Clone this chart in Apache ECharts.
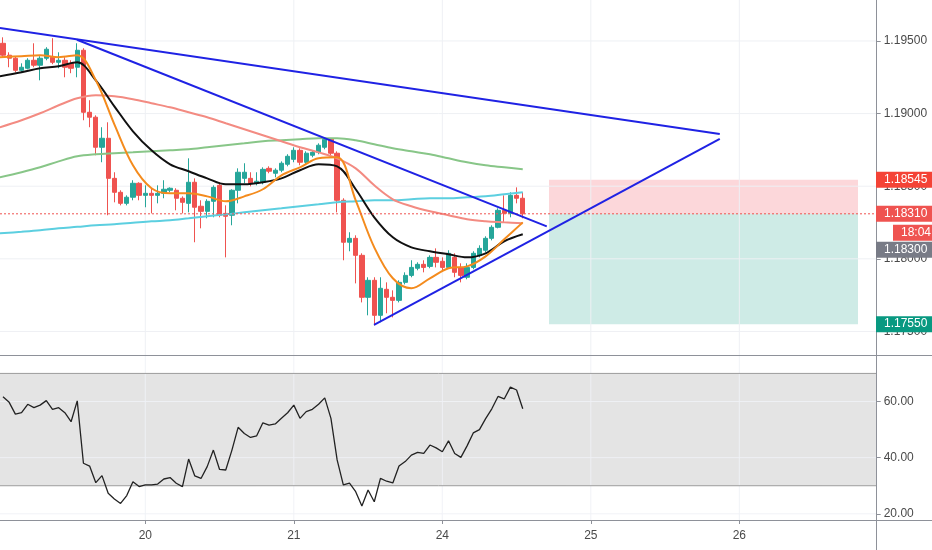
<!DOCTYPE html>
<html>
<head>
<meta charset="utf-8">
<script src="https://cdn.jsdelivr.net/npm/echarts@6/dist/echarts.min.js"></script>
<style>
html, body { margin: 0; padding: 0; background: #fff; }
#chart { width: 932px; height: 550px; }
</style>
</head>
<body>
<div id="chart"></div>
<script>
// hourly candles, [open, close, low, high], bar 1 = 19th 01:00
var ohlc = [
    [1.19484,1.19402,1.19388,1.19525], [1.19402,1.19381,1.19319,1.19422], [1.19381,1.19298,1.19284,1.19395],
    [1.19298,1.19319,1.19284,1.19346], [1.19312,1.19367,1.19305,1.19381], [1.19367,1.19333,1.19319,1.19484],
    [1.19333,1.19381,1.19229,1.19395], [1.19381,1.19443,1.19367,1.19457], [1.19388,1.19353,1.19340,1.19519],
    [1.19353,1.19367,1.19312,1.19422], [1.19367,1.19319,1.19250,1.19388], [1.19346,1.19312,1.19278,1.19367],
    [1.19319,1.19436,1.19250,1.19484], [1.19436,1.19009,1.18954,1.19450], [1.19009,1.18975,1.18906,1.19092],
    [1.18975,1.18768,1.18713,1.18988], [1.18768,1.18830,1.18665,1.18906], [1.18830,1.18554,1.18300,1.18940],
    [1.18554,1.18458,1.18389,1.18596], [1.18458,1.18382,1.18368,1.18472], [1.18382,1.18424,1.18368,1.18437],
    [1.18424,1.18520,1.18403,1.18541], [1.18520,1.18437,1.18403,1.18527], [1.18437,1.18451,1.18355,1.18506],
    [1.18451,1.18437,1.18313,1.18486], [1.18437,1.18451,1.18382,1.18506], [1.18451,1.18479,1.18417,1.18541],
    [1.18472,1.18486,1.18458,1.18492], [1.18472,1.18417,1.18334,1.18486], [1.18417,1.18389,1.18313,1.18430],
    [1.18382,1.18527,1.18320,1.18692], [1.18527,1.18355,1.18114,1.18554], [1.18362,1.18327,1.18210,1.18403],
    [1.18327,1.18396,1.18279,1.18410], [1.18396,1.18492,1.18286,1.18506], [1.18506,1.18300,1.18286,1.18527],
    [1.18313,1.18293,1.18010,1.18368], [1.18300,1.18472,1.18231,1.18479], [1.18472,1.18596,1.18382,1.18623],
    [1.18554,1.18596,1.18520,1.18658], [1.18554,1.18520,1.18499,1.18596], [1.18520,1.18534,1.18506,1.18596],
    [1.18527,1.18616,1.18513,1.18630], [1.18623,1.18603,1.18589,1.18637], [1.18589,1.18610,1.18561,1.18623],
    [1.18610,1.18658,1.18596,1.18671], [1.18651,1.18706,1.18637,1.18720], [1.18685,1.18747,1.18665,1.18768],
    [1.18747,1.18665,1.18644,1.18761], [1.18665,1.18727,1.18651,1.18740], [1.18713,1.18733,1.18699,1.18747],
    [1.18733,1.18782,1.18720,1.18795], [1.18768,1.18823,1.18754,1.18830], [1.18823,1.18727,1.18713,1.18830],
    [1.18727,1.18403,1.18320,1.18740], [1.18403,1.18114,1.17990,1.18417], [1.18114,1.18141,1.18052,1.18183],
    [1.18141,1.18024,1.17831,1.18162], [1.18024,1.17735,1.17700,1.18038], [1.17735,1.17852,1.17611,1.17873],
    [1.17852,1.17611,1.17542,1.17873], [1.17611,1.17797,1.17563,1.17873], [1.17790,1.17735,1.17625,1.17838],
    [1.17735,1.17714,1.17597,1.17783], [1.17714,1.17838,1.17700,1.17852], [1.17838,1.17886,1.17824,1.17907],
    [1.17886,1.17941,1.17873,1.17990], [1.17935,1.17962,1.17921,1.17976], [1.17962,1.17941,1.17907,1.17990],
    [1.17948,1.18010,1.17935,1.18024], [1.18010,1.17976,1.17941,1.18072], [1.17983,1.17941,1.17921,1.18010],
    [1.17941,1.18038,1.17935,1.18059], [1.18010,1.17907,1.17873,1.18038], [1.17941,1.17886,1.17838,1.17969],
    [1.17873,1.17941,1.17859,1.17969], [1.17941,1.18038,1.17928,1.18052], [1.18024,1.18072,1.18010,1.18093],
    [1.18059,1.18141,1.18045,1.18155], [1.18141,1.18217,1.18127,1.18231], [1.18217,1.18334,1.18210,1.18348],
    [1.18334,1.18313,1.18251,1.18437], [1.18313,1.18437,1.18286,1.18458], [1.18437,1.18417,1.18382,1.18492],
    [1.18417,1.18310,1.18279,1.18458]
];

var rsi = [
    61.7, 59.7, 55.5, 56.0, 59.0, 57.8, 58.7, 60.3, 57.2, 57.8,
    56.0, 52.8, 60.2, 38.0, 37.0, 31.1, 33.6, 27.3, 25.3, 23.7,
    26.5, 31.4, 29.7, 30.3, 30.3, 30.6, 32.4, 32.9, 30.9, 29.7,
    39.5, 33.5, 32.6, 36.8, 42.7, 35.8, 35.6, 42.7, 50.8, 48.6,
    47.2, 47.8, 52.4, 51.6, 52.0, 54.0, 56.0, 58.7, 54.0, 56.4,
    57.2, 59.0, 61.3, 54.0, 39.2, 30.3, 30.9, 27.9, 22.8, 28.5,
    24.3, 32.6, 31.6, 31.0, 37.0, 38.6, 40.9, 41.9, 41.5, 44.5,
    43.5, 42.1, 46.0, 41.5, 40.1, 44.2, 48.8, 50.0, 53.9, 57.4,
    61.8, 60.9, 65.1, 64.1, 57.4
];

// moving averages read every third bar
var maIdx = [0.5, 4, 7, 10, 13, 16, 19, 22, 25, 28, 31, 34, 37, 40, 43, 46, 49, 52, 55, 58, 61, 64, 67, 70, 73, 76, 79, 82, 85];
var maFast = [1.19388, 1.19395, 1.19402, 1.19388, 1.19402, 1.19229, 1.18926, 1.18644, 1.18486, 1.18451,
    1.18451, 1.18430, 1.18396, 1.18430, 1.18479, 1.18575, 1.18630, 1.18692, 1.18699, 1.18403,
    1.18079, 1.17866, 1.17797, 1.17866, 1.17935, 1.17948, 1.18017, 1.18134, 1.18251];
var maMid = [1.19257, 1.19284, 1.19312, 1.19326, 1.19353, 1.19229, 1.19050, 1.18878, 1.18747, 1.18651,
    1.18603, 1.18554, 1.18513, 1.18513, 1.18527, 1.18554, 1.18610, 1.18651, 1.18637, 1.18479,
    1.18286, 1.18148, 1.18079, 1.18052, 1.18031, 1.18010, 1.18038, 1.18121, 1.18169];
var maSlow = [1.18906, 1.18954, 1.19002, 1.19057, 1.19105, 1.19126, 1.19119, 1.19099, 1.19071, 1.19043,
    1.19009, 1.18975, 1.18933, 1.18892, 1.18851, 1.18809, 1.18768, 1.18733, 1.18692, 1.18623,
    1.18506, 1.18410, 1.18362, 1.18327, 1.18300, 1.18272, 1.18258, 1.18251, 1.18245];
var ma100 = [1.18561, 1.18596, 1.18630, 1.18671, 1.18706, 1.18720, 1.18727, 1.18733, 1.18740, 1.18747,
    1.18754, 1.18768, 1.18782, 1.18795, 1.18809, 1.18816, 1.18823, 1.18830, 1.18830, 1.18816,
    1.18789, 1.18761, 1.18740, 1.18720, 1.18692, 1.18665, 1.18644, 1.18630, 1.18616];
var ma200 = [1.18176, 1.18186, 1.18196, 1.18210, 1.18220, 1.18231, 1.18238, 1.18248, 1.18258, 1.18265,
    1.18279, 1.18293, 1.18306, 1.18320, 1.18334, 1.18348, 1.18362, 1.18375, 1.18389, 1.18396,
    1.18403, 1.18403, 1.18410, 1.18417, 1.18417, 1.18424, 1.18430, 1.18444, 1.18458];

// drawn trend lines, [bar, price]
var trendTop = [[0.5, 1.19590], [116.84, 1.18860]];
var trendMid = [[12.96, 1.19508], [88.88, 1.18223]];
var trendLow = [[60.96, 1.17545], [116.84, 1.18826]];

// long position tool
var target = 1.18545, entry = 1.18310, stop = 1.17550;
var boxFrom = 89.24, boxTo = 139.18;

var xMin = 0.517, xMax = 142.2;
var dayTicks = [24, 48, 72, 96, 120];
var dayLabels = ['20', '21', '24', '25', '26'];
var priceTicks = [1.175, 1.18, 1.185, 1.19, 1.195];
var rsiTicks = [20, 40, 60];
var sideLabels = [
    { text: '1.18545', price: target, bg: '#f44336', left: 876, shift: 0 },
    { text: '1.18310', price: entry, bg: '#ef5350', left: 876, shift: 0 },
    { text: '18:04', price: entry, bg: '#ef5350', left: 893, shift: 19 },
    { text: '1.18300', price: entry, bg: '#787b86', left: 876, shift: 36 },
    { text: '1.17550', price: stop, bg: '#089981', left: 876, shift: 0 }
];

var font = 'Liberation Sans, Arial, sans-serif';
var textColor = '#4a4a4a';
var frameColor = '#8e9199';
var gridColor = '#eef0f4';

function toXY(idx, vals) {
    return idx.map(function(x, i) { return [x, vals[i]]; });
}

function plainLine(data, style, z, smooth, axis) {
    return {
        type: 'line',
        xAxisIndex: axis || 0,
        yAxisIndex: axis || 0,
        data: data,
        smooth: smooth || false,
        showSymbol: false,
        silent: true,
        z: z,
        lineStyle: style
    };
}

function gridLines(axis, yVals, color) {
    var list = [];
    yVals.forEach(function(v) {
        list.push(plainLine([[xMin, v], [xMax, v]], { color: color, width: 1 }, 2, false, axis));
    });
    return list;
}

var series = [];
series = series.concat(gridLines(0, priceTicks, gridColor));
// vertical day lines in both panes
dayTicks.forEach(function(d) {
    series.push(plainLine([[d, 1.17333], [d, 1.19782]], { color: gridColor, width: 1 }, 2, false, 0));
});

series.push({
    type: 'line', xAxisIndex: 0, yAxisIndex: 0,
    data: [[boxFrom, entry]], showSymbol: false, silent: true, z: 1,
    lineStyle: { opacity: 0 },
    markArea: {
        silent: true,
        data: [
            [{ xAxis: boxFrom, yAxis: target, itemStyle: { color: 'rgba(242,54,69,0.2)' } }, { xAxis: boxTo, yAxis: entry }],
            [{ xAxis: boxFrom, yAxis: entry, itemStyle: { color: 'rgba(8,153,129,0.2)' } }, { xAxis: boxTo, yAxis: stop }]
        ]
    }
});

series.push({
    name: 'EURUSD',
    type: 'candlestick',
    xAxisIndex: 0,
    yAxisIndex: 0,
    data: ohlc.map(function(c, i) { return [i + 1, c[0], c[1], c[2], c[3]]; }),
    encode: { x: 0, y: [1, 2, 3, 4] },
    barWidth: 4.8,
    silent: true,
    z: 3,
    itemStyle: {
        color: '#26a69a', color0: '#ef5350',
        borderColor: '#26a69a', borderColor0: '#ef5350', borderWidth: 1
    }
});

// last price line
series.push(plainLine([[xMin, entry], [xMax, entry]], { color: '#ef5350', width: 1, type: [2, 2] }, 5));

series.push(plainLine(toXY(maIdx, ma200), { color: '#5ccfe0', width: 2 }, 4, 0.35));
series.push(plainLine(toXY(maIdx, ma100), { color: '#88c688', width: 2 }, 4, 0.35));
series.push(plainLine(toXY(maIdx, maSlow), { color: '#f38b82', width: 2 }, 4, 0.35));
series.push(plainLine(toXY(maIdx, maMid), { color: '#111111', width: 2 }, 4, 0.35));
series.push(plainLine(toXY(maIdx, maFast), { color: '#f48b1d', width: 2 }, 4, 0.35));

[trendTop, trendMid, trendLow].forEach(function(t) {
    series.push(plainLine(t, { color: '#1f22e4', width: 2 }, 6));
});

// RSI pane: band, grid lines, level lines, RSI
series.push({
    type: 'line', xAxisIndex: 1, yAxisIndex: 1,
    data: [[boxFrom, 50]], showSymbol: false, silent: true, z: 1,
    lineStyle: { opacity: 0 },
    markArea: {
        silent: true,
        itemStyle: { color: '#e4e4e4' },
        data: [[{ yAxis: 30 }, { yAxis: 70 }]]
    }
});
series = series.concat(gridLines(1, rsiTicks, 'rgba(240,242,246,0.9)'));
dayTicks.forEach(function(d) {
    series.push(plainLine([[d, 17.8], [d, 76.2]], { color: 'rgba(240,242,246,0.9)', width: 1 }, 2, false, 1));
});
series = series.concat(gridLines(1, [30, 70], '#9c9c9c'));
series.push(plainLine(rsi.map(function(v, i) { return [i + 1, v]; }), { color: '#222222', width: 1.3 }, 4, false, 1));

var chart = echarts.init(document.getElementById('chart'));

var option = {
    animation: false,
    backgroundColor: '#fff',
    grid: [
        { left: 0, top: 0, width: 876.7, height: 355.7 },
        { left: 0, top: 356, width: 876.7, height: 164 }
    ],
    xAxis: [
        {
            type: 'value', gridIndex: 0, min: xMin, max: xMax,
            axisLine: { show: false }, axisTick: { show: false },
            axisLabel: { show: false }, splitLine: { show: false }
        },
        {
            type: 'value', gridIndex: 1, min: xMin, max: xMax,
            axisLine: { show: false },
            axisTick: { show: true, customValues: dayTicks, length: 4, lineStyle: { color: frameColor } },
            axisLabel: {
                show: true, customValues: dayTicks, margin: 10,
                color: textColor, fontSize: 12, fontFamily: font,
                formatter: function(v) {
                    var k = dayTicks.indexOf(Math.round(v));
                    return k < 0 ? '' : dayLabels[k];
                }
            },
            splitLine: { show: false }
        }
    ],
    yAxis: [
        {
            type: 'value', gridIndex: 0, position: 'right', min: 1.17333, max: 1.19782,
            axisLine: { show: false },
            axisTick: { show: true, customValues: priceTicks, length: 4, lineStyle: { color: frameColor } },
            axisLabel: {
                show: true, customValues: priceTicks, margin: 7,
                color: textColor, fontSize: 12, fontFamily: font,
                formatter: function(v) { return v.toFixed(5); }
            },
            splitLine: { show: false }
        },
        {
            type: 'value', gridIndex: 1, position: 'right', min: 17.8, max: 76.2,
            axisLine: { show: false },
            axisTick: { show: true, customValues: rsiTicks, length: 4, lineStyle: { color: frameColor } },
            axisLabel: {
                show: true, customValues: rsiTicks, margin: 7,
                color: textColor, fontSize: 12, fontFamily: font,
                formatter: function(v) { return v.toFixed(2); }
            },
            splitLine: { show: false }
        }
    ],
    series: series
};

chart.setOption(option);

// frame lines and price scale boxes
var graphics = [
    { type: 'line', shape: { x1: 876.5, y1: 0, x2: 876.5, y2: 550 }, style: { stroke: frameColor, lineWidth: 1 }, z: 50 },
    { type: 'line', shape: { x1: 0, y1: 355.5, x2: 932, y2: 355.5 }, style: { stroke: frameColor, lineWidth: 1 }, z: 50 },
    { type: 'line', shape: { x1: 0, y1: 520.5, x2: 932, y2: 520.5 }, style: { stroke: frameColor, lineWidth: 1 }, z: 50 }
];

var entryY = chart.convertToPixel({ yAxisIndex: 0 }, entry);
graphics.push({
    type: 'rect', shape: { x: 877, y: entryY + 10, width: 16, height: 16 },
    style: { fill: '#fff' }, z: 60
});

sideLabels.forEach(function(lb) {
    var cy = chart.convertToPixel({ yAxisIndex: 0 }, lb.price) + lb.shift;
    graphics.push({
        type: 'rect',
        shape: { x: lb.left, y: cy - 8, width: 932 - lb.left, height: 16 },
        style: { fill: lb.bg },
        z: 61
    });
    graphics.push({
        type: 'text',
        x: lb.left + 8,
        y: cy,
        style: {
            text: lb.text, fill: '#fff', font: '12px ' + font,
            align: 'left', verticalAlign: 'middle',
            textAlign: 'left', textVerticalAlign: 'middle'
        },
        z: 62
    });
});

chart.setOption({ graphic: graphics });
</script>
</body>
</html>
